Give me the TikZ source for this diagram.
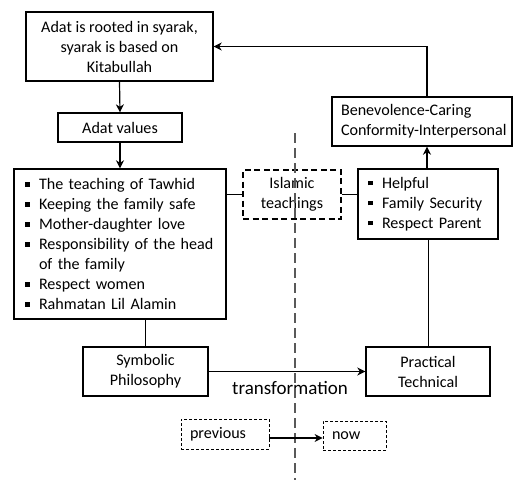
\documentclass[tikz,border=0pt]{standalone}
\usepackage{fontspec}
\setmainfont{Carlito}
\usetikzlibrary{arrows.meta}
\newcommand{\sqb}{\makebox[14pt][l]{\raisebox{3pt}{\rule{4.5pt}{4.5pt}}}}
\newcommand{\oneline}[1]{\mbox{#1}}
\tikzset{
  box/.style={draw, line width=1.4pt, inner sep=0pt, font=\fontsize{16.1}{20}\selectfont},
  lbox/.style={box, inner xsep=#1, align=left},
  conn/.style={line width=1.2pt},
  thin/.style={line width=0.9pt},
  arr/.style={conn, -{Stealth[length=8pt,width=8pt,inset=2.5pt]}},
}
\begin{document}
\begin{tikzpicture}[x=1pt,y=-1pt]
\useasboundingbox (0,0) rectangle (514,480);
% boxes
\node[box, minimum width=187pt, minimum height=69pt, align=center] (root) at (119.5,46.5)
  {Adat is rooted in syarak,\\ syarak is based on\\ Kitabullah};
\node[box, minimum width=124pt, minimum height=29pt] (adat) at (120,127.5) {Adat values};
\node[lbox=11pt, minimum width=212pt, minimum height=150pt, text width=190pt] (list) at (120,244)
  {\oneline{\sqb The teaching of Tawhid}\\
   \oneline{\sqb Keeping the family safe}\\
   \oneline{\sqb Mother-daughter love}\\
   \oneline{\sqb Responsibility of the head}\\
   \oneline{\hspace*{14pt}of the family}\\
   \oneline{\sqb Respect women}\\
   \oneline{\sqb Rahmatan Lil Alamin}};
\node[box, dashed, dash pattern=on 6pt off 3.5pt, minimum width=98pt, minimum height=49pt, align=center] (isl) at (292,194.5)
  {Islamic\\ teachings};
\node[lbox=10pt, minimum width=140pt, minimum height=70pt, text width=120pt] (help) at (428,204)
  {\oneline{\sqb Helpful}\\ \oneline{\sqb Family Security}\\ \oneline{\sqb Respect Parent}};
\node[lbox=9pt, minimum width=180pt, minimum height=49pt, text width=162pt] (ben) at (422,121.5)
  {\oneline{Benevolence-Caring}\\ \oneline{Conformity-Interpersonal}};
\node[box, minimum width=125pt, minimum height=49pt, align=center] (sym) at (145.5,371.5)
  {Symbolic\\ Philosophy};
\node[box, minimum width=124pt, minimum height=49pt, align=center] (prac) at (428,371.5)
  {Practical\\ Technical};
\node[lbox=9pt, line width=0.8pt, dashed, dash pattern=on 3pt off 2pt, minimum width=88pt, minimum height=30pt, text width=70pt] (prev) at (225,434) {previous};
\node[lbox=9pt, line width=0.8pt, dashed, dash pattern=on 3pt off 2pt, minimum width=63pt, minimum height=29pt, text width=45pt] (now) at (354.5,435.5) {now};
\node[font=\fontsize{19}{21}\selectfont] (tr) at (290,388) {transformation};
% divider
\coordinate (dtop) at (295,133);
\coordinate (dbot) at (295,480);
\draw[line width=1.1pt, draw=black!65, dash pattern=on 10pt off 5pt] (dtop) -- (dbot);
% connectors
\draw[arr] (root.south) -- (adat.north);
\draw[arr] (adat.north |- adat.south) -- (list.north);
\draw[conn] (isl.west -| list.east) -- (isl.west);
\draw[conn] (isl.east) -- (isl.east -| help.west);
\coordinate (bx) at (427,0);
\draw[arr] (bx |- help.north) -- (bx |- ben.south);
\draw[arr] (bx |- ben.north) |- (root.east);
\draw[thin] (sym.north |- list.south) -- (sym.north);
\draw[thin] (help.south) -- (prac.north);
\draw[arr] (sym.east) -- (prac.west);
\draw[arr] ([yshift=-4pt]prev.east) -- ([yshift=-4pt]prev.east -| now.west);
\end{tikzpicture}
\end{document}
